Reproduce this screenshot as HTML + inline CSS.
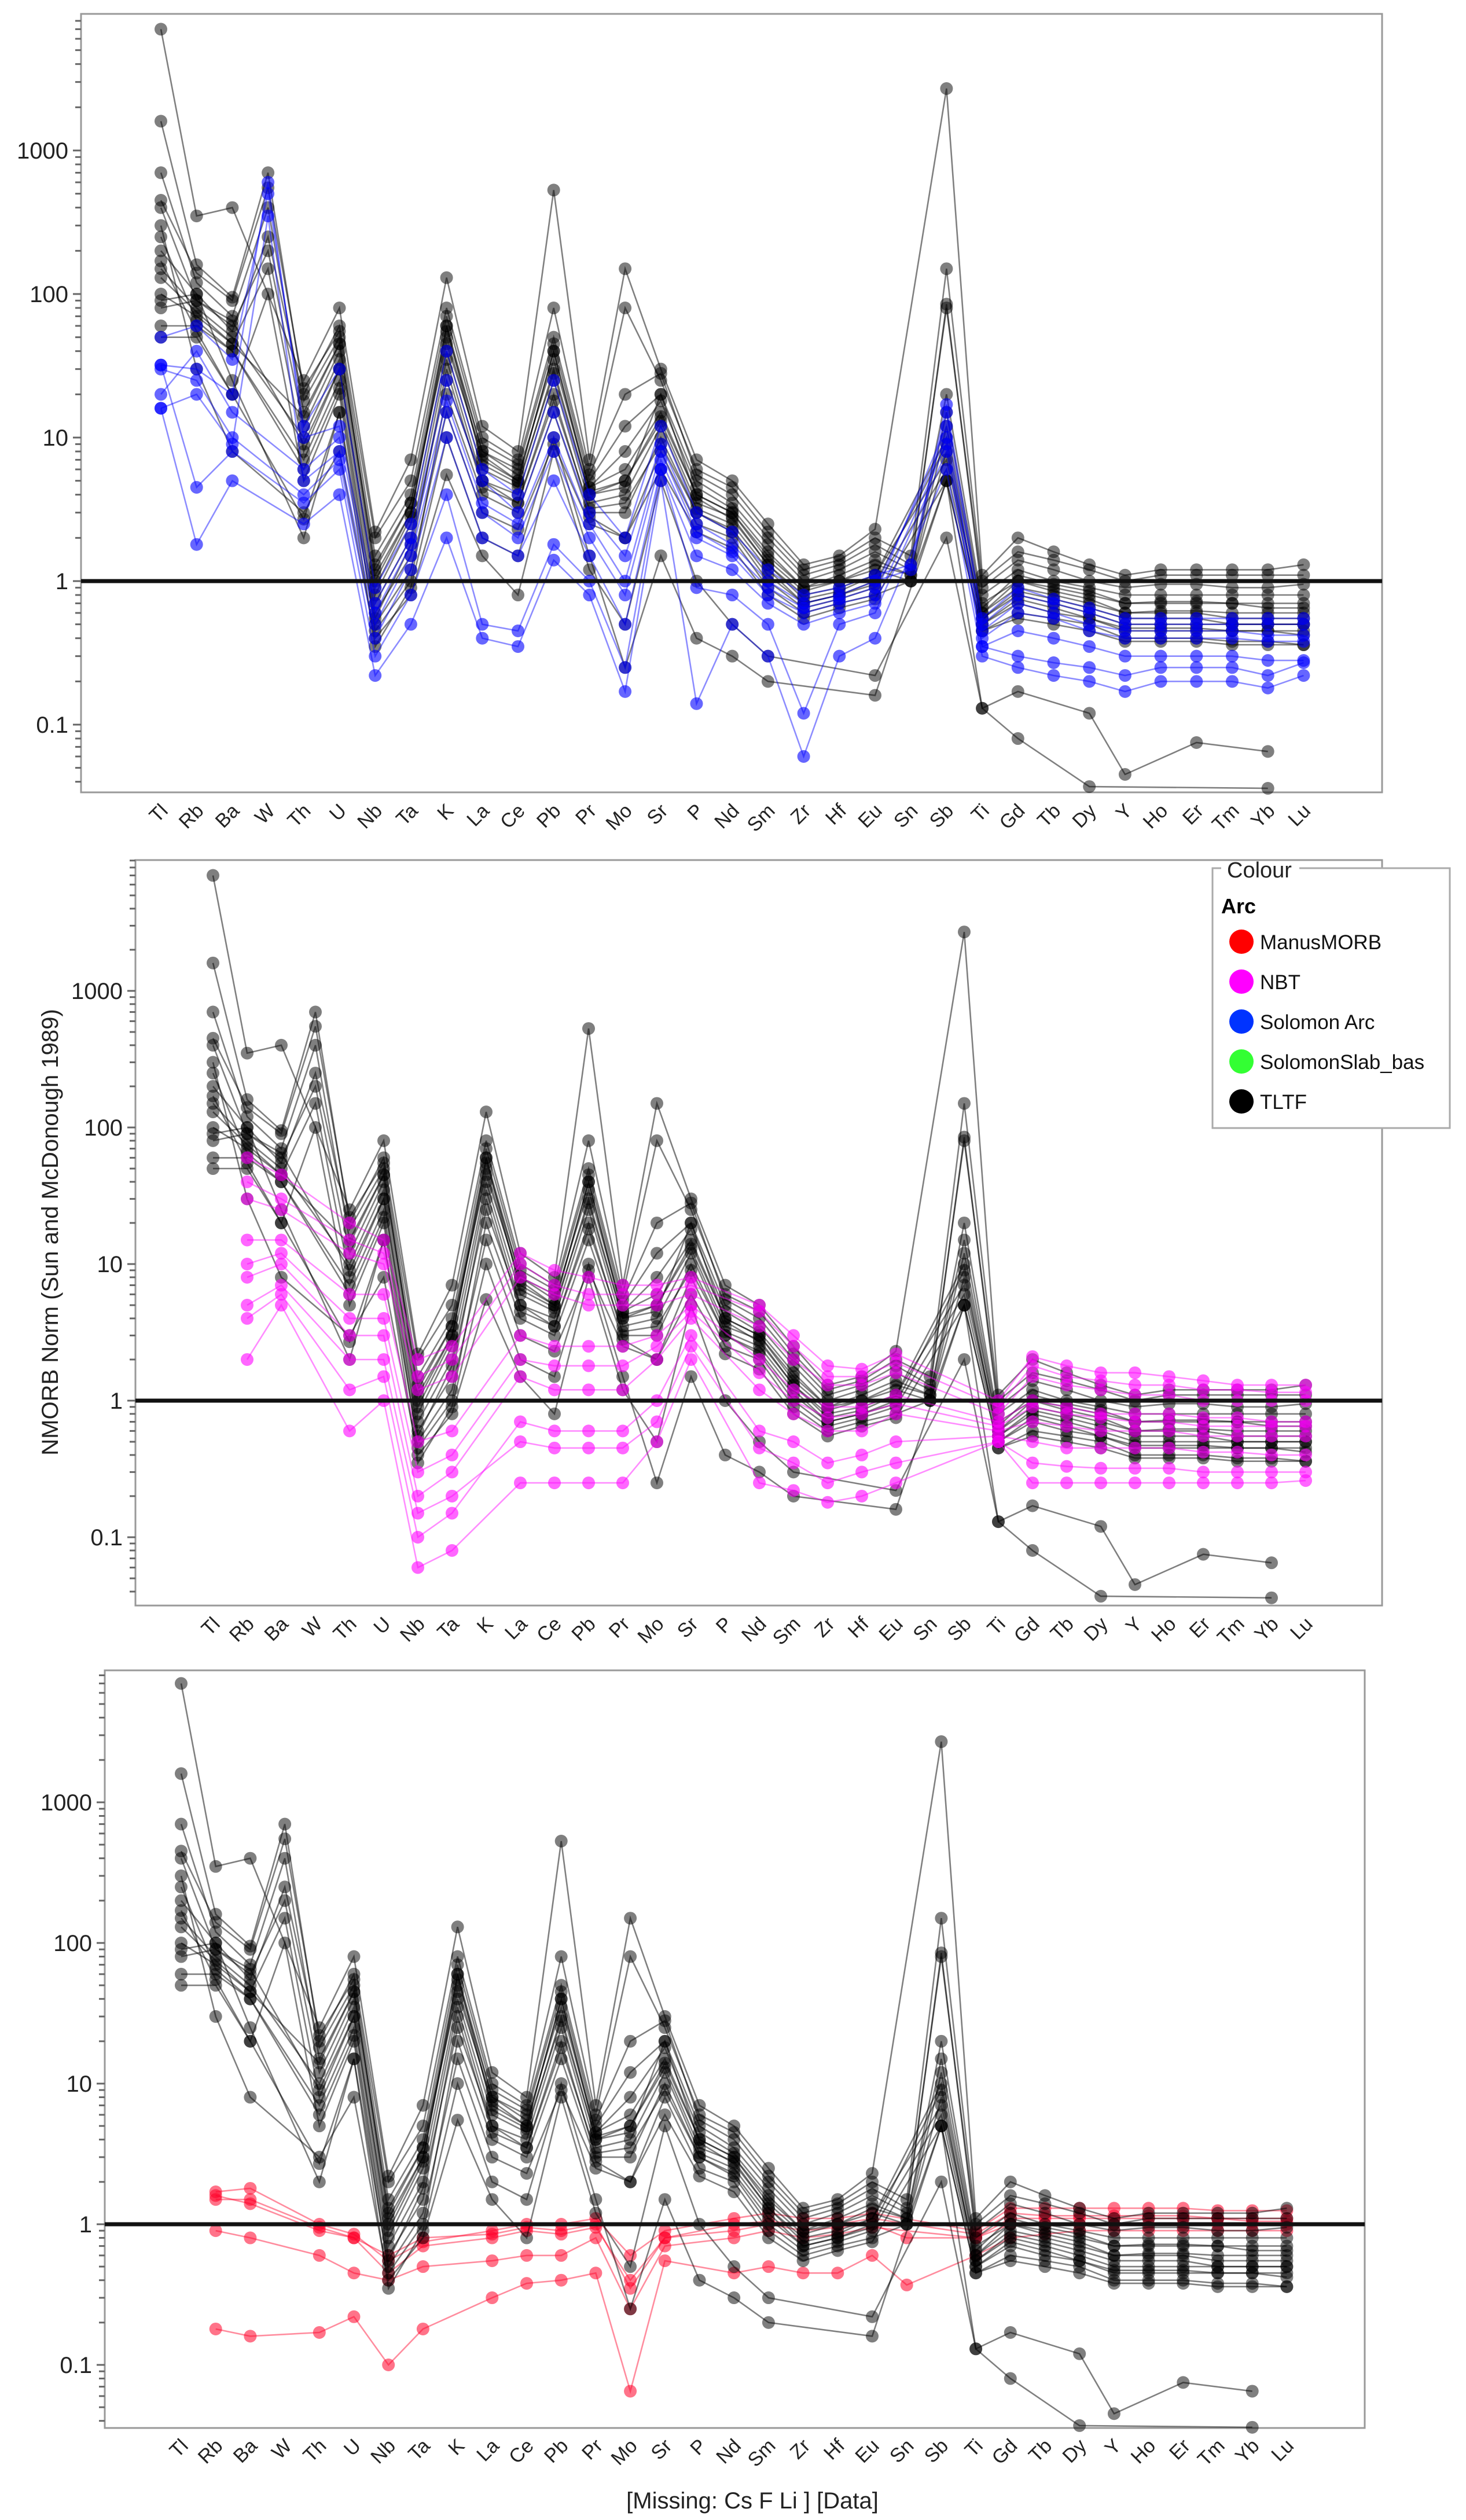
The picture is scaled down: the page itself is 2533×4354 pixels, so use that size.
<!DOCTYPE html>
<html><head><meta charset="utf-8">
<style>
html,body{margin:0;padding:0;background:#fff;}
svg{display:block;}
text{font-family:"Liberation Sans",sans-serif;}
</style></head>
<body>
<svg id="chart" width="2533" height="4354" viewBox="0 0 2533 4354" xmlns="http://www.w3.org/2000/svg"></svg>
<script>
const elements = ["Tl","Rb","Ba","W","Th","U","Nb","Ta","K","La","Ce","Pb","Pr","Mo","Sr","P","Nd","Sm","Zr","Hf","Eu","Sn","Sb","Ti","Gd","Tb","Dy","Y","Ho","Er","Tm","Yb","Lu"];
const yTicks = [0.1, 1, 10, 100, 1000];
const yTickLabels = ["0.1","1","10","100","1000"];

// TLTF (black)
const tltf1 = [7000,350,400,null,25,80,2.2,7,130,12,8,530,7,150,30,7,5,2.5,1.3,1.5,2.3,null,2700,1.1,2,1.6,1.3,1.1,1.2,1.2,1.2,1.2,1.3];
const tltf2 = [1600,160,95,700,20,60,2,5,80,10,7,80,6,80,25,6,4.5,2.2,1.2,1.4,2,1.5,150,1,1.6,1.4,1.2,1,1.1,1.1,1.1,1.1,1.1];
const tltf3 = [700,120,70,400,15,45,1.2,3.5,60,8,6,45,5,12,20,5,3.5,1.8,1,1.2,1.6,1.2,85,0.8,1.2,1,0.9,0.8,0.8,0.8,0.8,0.8,0.8];
const tltf4 = [400,90,60,200,12,40,1,3,50,7,5,40,4.5,6,15,4,3,1.5,0.9,1,1.3,1.1,20,0.7,1,0.9,0.8,0.7,0.7,0.7,0.7,0.65,0.65];
const tltf5 = [150,80,50,null,10,35,0.8,2.5,40,6,4.5,30,4,5,13,3.5,2.8,1.3,0.8,0.9,1.1,null,10,0.6,0.9,0.8,0.7,0.6,0.6,0.6,0.55,0.55,0.55];
const tltf6 = [100,70,45,150,8,30,0.7,2,35,5,4,25,3.5,4,12,3.2,2.5,1.2,0.7,0.8,1,1,8,0.55,0.8,0.7,0.6,0.5,0.5,0.5,0.5,0.5,0.5];
const tltf7 = [60,60,40,null,7,25,0.6,1.5,30,4.5,3.5,20,3,3,10,3,2.2,1,0.65,0.75,0.9,null,6,0.5,0.7,0.6,0.55,0.45,0.45,0.45,0.45,0.45,0.42];
const tltf8 = [50,50,20,100,5,20,0.45,1,20,4,3,15,2.8,2,8,2.5,2,0.9,0.6,0.7,0.8,1,5,0.45,0.6,0.55,0.5,0.4,0.4,0.4,0.38,0.38,0.36];
const tltf9 = [300,30,8,null,3,8,0.4,0.8,5.5,1.5,0.8,8,1.2,0.5,5,1,0.5,0.3,null,null,0.22,null,2,0.13,0.17,null,0.12,0.045,null,0.075,null,0.065,null];
const tltf10 = [200,100,25,null,2,15,0.35,0.9,10,2,1.5,10,1.5,0.25,1.5,0.4,0.3,0.2,null,null,0.16,null,5,0.13,0.08,null,0.037,null,null,null,null,0.036,null];
const tltf11 = [450,140,90,550,22,55,1.5,4,70,9,6.5,50,5.5,20,28,5.5,4,2,1.1,1.3,1.8,1.3,80,0.9,1.4,1.2,1,0.9,0.95,0.95,0.9,0.9,0.95];
const tltf12 = [90,100,55,250,18,50,1.1,3,55,8,5.5,35,4.5,8,18,4.5,3.2,1.6,0.9,1.1,1.4,1.1,15,0.65,1.1,0.95,0.85,0.7,0.72,0.72,0.7,0.7,0.7];
const tltf13 = [130,75,45,null,14,45,1.3,3.5,45,7.5,5,40,4.2,5,14,4,3,1.4,0.85,1,1.2,1,12,0.6,1,0.85,0.75,0.6,0.62,0.62,0.6,0.6,0.6];
const tltf14 = [80,90,65,null,9,30,0.9,2.8,60,6.5,4.8,28,4,4.5,20,3.8,2.7,1.3,0.75,0.85,1.1,null,7,0.55,0.85,0.75,0.65,0.55,0.55,0.55,0.5,0.5,0.5];
const tltf15 = [250,65,40,null,6,22,0.55,1.8,25,5,3.5,18,3.2,3.5,9,3,2.3,1.1,0.7,0.8,0.95,null,9,0.5,0.75,0.65,0.55,0.47,0.47,0.47,0.45,0.45,0.45];
const tltf16 = [170,55,20,null,2.7,15,0.5,1.2,15,3,2.3,9,2.5,2,6,2.2,1.7,0.8,0.55,0.65,0.75,null,5,0.45,0.55,0.5,0.45,0.38,0.38,0.38,0.36,0.36,0.36];

// Solomon Arc (blue)
const sol1 = [32,30,20,600,10,12,0.7,2,25,5,3,15,3,1.5,9,2.5,1.8,1,0.7,0.8,1,1.2,15,0.5,0.8,0.7,0.6,0.5,0.5,0.5,0.5,0.5,0.5];
const sol2 = [16,20,9,350,5,8,0.5,1.5,15,3,2,8,2,0.8,7,2,1.5,0.8,0.6,0.7,0.8,null,12,0.4,0.6,0.55,0.45,0.4,0.4,0.4,0.4,0.38,0.38];
const sol3 = [16,1.8,5,null,2.5,4,0.22,0.5,2,0.4,0.35,1.4,0.8,0.17,5,0.14,0.5,0.3,0.06,0.3,0.4,null,6,0.3,0.25,0.22,0.2,0.17,0.2,0.2,0.2,0.18,0.22];
const sol4 = [32,4.5,8,null,3.5,6,0.3,0.8,4,0.5,0.45,1.8,1,0.25,6,0.9,0.8,0.5,0.12,0.5,0.6,null,8,0.35,0.3,0.27,0.25,0.22,0.25,0.25,0.25,0.22,0.27];
const sol5 = [50,60,35,500,12,30,0.9,2.5,40,6,4,25,4,2,12,3,2.2,1.2,0.8,0.9,1.1,1.3,17,0.55,0.9,0.75,0.65,0.55,0.55,0.55,0.55,0.55,0.55];
const sol6 = [20,40,15,null,6,10,0.6,1.8,18,3.5,2.5,10,2.5,1,8,2.2,1.6,0.9,0.65,0.75,0.9,null,10,0.45,0.7,0.6,0.5,0.45,0.45,0.45,0.45,0.42,0.42];
const sol7 = [30,25,10,null,4,7,0.4,1.2,10,2,1.5,5,1.5,0.5,6,1.5,1.2,0.7,0.5,0.6,0.7,null,9,0.35,0.45,0.4,0.35,0.3,0.3,0.3,0.3,0.28,0.28];

// NBT (magenta)
const nbt1 = [null,60,45,null,20,15,2,2.5,null,12,9,8,7,7,8,null,5,3,1.8,1.7,2.2,null,null,1,2.1,1.8,1.6,1.6,1.5,1.4,1.3,1.3,1.3];
const nbt2 = [null,30,25,null,12,10,1.2,1.5,null,8,6,5,5,5,6,null,3.5,2,1.3,1.3,1.6,null,null,0.8,1.5,1.3,1.2,1.1,1.1,1,1,1,1];
const nbt3 = [null,15,15,null,6,6,0.5,0.6,null,3,2.5,2.5,2.5,3,5,null,2,1.2,0.9,0.9,1.1,null,null,0.7,1,0.9,0.8,0.8,0.8,0.75,0.75,0.7,0.7];
const nbt4 = [null,8,10,null,3,3,0.2,0.3,null,1.5,1.2,1.2,1.2,2,4,null,1.2,0.8,0.6,0.6,0.8,null,null,0.6,0.7,0.65,0.6,0.6,0.6,0.55,0.55,0.55,0.55];
const nbt5 = [null,4,6,null,1.2,1.5,0.1,0.15,null,0.7,0.6,0.6,0.6,1,3,null,0.6,0.5,0.35,0.4,0.5,null,null,0.55,0.5,0.45,0.45,0.45,0.45,0.42,0.42,0.4,0.4];
const nbt6 = [null,2,5,null,0.6,1,0.06,0.08,null,0.25,0.25,0.25,0.25,0.5,2,null,0.25,0.22,0.18,0.2,0.25,null,null,0.5,0.25,0.25,0.25,0.25,0.25,0.25,0.25,0.25,0.26];
const nbt7 = [null,10,12,null,4,4,0.3,0.4,null,2,1.8,1.8,1.8,2.5,4.5,null,1.6,1,0.75,0.8,0.95,null,null,0.65,0.9,0.8,0.75,0.7,0.7,0.65,0.65,0.65,0.65];
const nbt8 = [null,5,7,null,2,2,0.15,0.2,null,0.5,0.45,0.45,0.45,0.7,2.5,null,0.45,0.35,0.25,0.3,0.35,null,null,0.5,0.35,0.33,0.32,0.32,0.32,0.3,0.3,0.3,0.3];
const nbt9 = [null,40,30,null,15,12,1.5,2,null,10,7,6,6,6,7,null,4.5,2.5,1.5,1.5,1.9,null,null,0.9,1.8,1.5,1.4,1.3,1.3,1.2,1.2,1.15,1.15];

// ManusMORB (red)
const morb1 = [null,1.7,1.8,null,1,0.85,0.55,0.75,null,0.9,1,1,1.1,0.6,0.9,null,1.1,1.2,1.1,1.1,1.2,null,null,0.9,1.3,1.3,1.3,1.3,1.3,1.3,1.25,1.25,1.25];
const morb2 = [null,1.5,1.5,null,0.95,0.8,0.6,0.8,null,0.85,0.95,0.9,1,0.35,0.8,null,1,1.05,1,1,1.1,null,null,0.85,1.2,1.15,1.15,1.15,1.15,1.15,1.1,1.1,1.1];
const morb3 = [null,0.9,0.8,null,0.6,0.45,0.4,0.5,null,0.55,0.6,0.6,0.8,0.25,0.7,null,0.8,0.9,0.8,0.85,0.95,null,null,0.8,1,1,1,1,1,1,1,1,1];
const morb4 = [null,0.18,0.16,null,0.17,0.22,0.1,0.18,null,0.3,0.38,0.4,0.45,0.065,0.55,null,0.45,0.5,0.45,0.45,0.6,0.37,null,0.6,0.8,0.85,0.9,0.9,0.9,0.9,0.9,0.9,0.9];
const morb5 = [null,1.6,1.4,null,0.9,0.8,0.45,0.7,null,0.8,0.9,0.85,0.95,0.4,0.8,null,0.9,1,0.9,0.95,1,0.8,null,0.8,1.1,1.1,1.1,1.1,1.1,1.1,1.1,1.05,1.05];

const tltfSeries = [tltf1,tltf2,tltf3,tltf4,tltf5,tltf6,tltf7,tltf8,tltf9,tltf10,tltf11,tltf12,tltf13,tltf14,tltf15,tltf16];
const solSeries = [sol1,sol2,sol3,sol4,sol5,sol6,sol7];
const nbtSeries = [nbt1,nbt2,nbt3,nbt4,nbt5,nbt6,nbt7,nbt8,nbt9];
const morbSeries = [morb1,morb2,morb3,morb4,morb5];
const legendLabels = ["ManusMORB","NBT","Solomon Arc","SolomonSlab_bas","TLTF"];
const legendColors = ["#ff0000","#ff00ff","#0033ff","#33ff33","#000000"];

const NS = "http://www.w3.org/2000/svg";
const svg = document.getElementById("chart");
function mk(tag, attrs, parent){
  const e = document.createElementNS(NS, tag);
  for (const k in attrs) e.setAttribute(k, attrs[k]);
  (parent||svg).appendChild(e);
  return e;
}

const panels = [
  {left:140, right:2388, top:24, bottom:1369, x0:278, dx:61.7, y1000:260, dec:248, labY:1395, colorSeries:solSeries, color:"0,0,255", name:"solomon-arc", colorFirst:false},
  {left:234, right:2388, top:1486, bottom:2774, x0:368, dx:59, y1000:1712, dec:236, labY:2800, colorSeries:nbtSeries, color:"255,0,255", name:"nbt", colorFirst:false},
  {left:181, right:2358, top:2886, bottom:4195, x0:313, dx:59.7, y1000:3114, dec:243, labY:4220, colorSeries:morbSeries, color:"255,0,40", name:"manus-morb", colorFirst:true}
];

panels.forEach((p, pi) => {
  const xs = i => p.x0 + i * p.dx;
  const ys = v => p.y1000 - (Math.log10(v) - 3) * p.dec;
  const g = mk("g", {});
  
  

  const box = mk("rect", {x:p.left, y:p.top, width:p.right-p.left, height:p.bottom-p.top, fill:"#fff", stroke:"#999", "stroke-width":3}, g);
  
  

  // minor/major ticks
  for (let e = -2; e <= 4; e++) {
    for (let k = 1; k <= 9; k++) {
      const v = k * Math.pow(10, e);
      const y = ys(v);
      if (y < p.top || y > p.bottom) continue;
      const t = mk("line", {x1:p.left-(k===1?14:10), x2:p.left, y1:y, y2:y, stroke:"#666", "stroke-width":3}, g);
      
      
    }
  }
  yTicks.forEach((v, i) => {
    const t = mk("text", {x:p.left-22, y:ys(v)+14, "text-anchor":"end", "font-size":40, fill:"#222"}, g);
    t.textContent = yTickLabels[i];
    
    
  });

  // x labels
  elements.forEach((el, i) => {
    const tx = xs(i) + 14, ty = p.labY + 8;
    const t = mk("text", {x:tx, y:ty, "text-anchor":"end", "font-size":34, fill:"#222", transform:`rotate(-45 ${tx} ${ty})`}, g);
    t.textContent = el;
    
    
  });

  function drawSeries(series, rgb, lineOp, dotOp, nm) {
    series.forEach(arr => {
      const pts = [];
      arr.forEach((v, i) => { if (v !== null && v > 0) pts.push([xs(i), ys(v)]); });
      const pl = mk("polyline", {points: pts.map(q => q[0].toFixed(1)+","+q[1].toFixed(1)).join(" "), fill:"none", stroke:`rgba(${rgb},${lineOp})`, "stroke-width":2.6}, g);
      
      
      pts.forEach(q => {
        const c = mk("circle", {cx:q[0], cy:q[1], r:11, fill:`rgba(${rgb},${dotOp})`}, g);
        
        
      });
    });
  }
  if (p.colorFirst) {
    drawSeries(p.colorSeries, p.color, 0.45, 0.55, p.name);
    drawSeries(tltfSeries, "0,0,0", 0.5, 0.5, "tltf");
  } else {
    drawSeries(tltfSeries, "0,0,0", 0.5, 0.5, "tltf");
    drawSeries(p.colorSeries, p.color, 0.45, 0.6, p.name);
  }

  const ref = mk("line", {x1:p.left, x2:p.right, y1:ys(1), y2:ys(1), stroke:"#111", "stroke-width":7}, g);
  
  
});

// y-axis title
const yt = mk("text", {x:100, y:2129, "text-anchor":"middle", "font-size":40, fill:"#222", transform:"rotate(-90 100 2129)"});
yt.textContent = "NMORB Norm (Sun and McDonough 1989)";



// x-axis title
const xt = mk("text", {x:1300, y:4334, "text-anchor":"middle", "font-size":40, fill:"#222"});
xt.textContent = "[Missing: Cs F Li ] [Data]";



// legend
const lg = mk("g", {});


const lbox = mk("rect", {x:2095, y:1500, width:410, height:449, fill:"#fff", stroke:"#aaa", "stroke-width":3}, lg);


const lgap = mk("rect", {x:2110, y:1490, width:135, height:20, fill:"#fff"}, lg);


const lt = mk("text", {x:2120, y:1516, "font-size":38, fill:"#222", "font-family":"DejaVu Sans, sans-serif"}, lg);
lt.textContent = "Colour";


const la = mk("text", {x:2110, y:1578, "font-size":36, "font-weight":"bold", fill:"#000", "font-family":"DejaVu Sans, sans-serif"}, lg);
la.textContent = "Arc";


legendLabels.forEach((name, i) => {
  const cy = 1627 + i * 69;
  const c = mk("circle", {cx:2145, cy:cy, r:21, fill:legendColors[i]}, lg);
  
  
  const t = mk("text", {x:2177, y:cy+13, "font-size":35, fill:"#111", "font-family":"DejaVu Sans, sans-serif"}, lg);
  t.textContent = name;
  
  
});
</script>
</body></html>
